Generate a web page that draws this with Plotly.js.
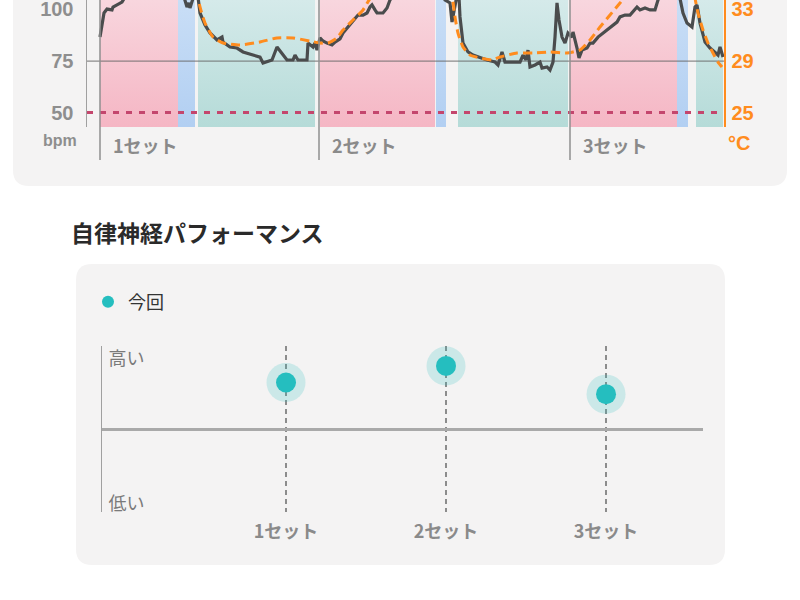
<!DOCTYPE html>
<html>
<head>
<meta charset="utf-8">
<script src="https://cdn.plot.ly/plotly-3.0.1.min.js"></script>
<style>html,body{margin:0;padding:0;background:#fff;}#chart{width:800px;height:600px;}</style>
</head>
<body>
<div id="chart"></div>
<script>
// ---------- DATA ----------
// phases of the session (minutes): sauna / water bath / rest
const phaseStart = [0, 7.8, 9.8, 22.0, 33.6, 35.8, 47.0, 57.7, 59.6];
const phaseEnd   = [7.8, 9.5, 21.5, 33.5, 34.6, 46.8, 57.7, 58.8, 62.3];
const phaseKind  = ['sauna','water','rest','sauna','water','rest','sauna','water','rest'];

const setStarts = [0, 21.9, 47.0];
const setLabels = ['1セット', '2セット', '3セット'];

// heart rate (bpm)
const hrTime = [0.0,0.4,0.7,1.2,1.3,1.8,2.2,2.5,3.5,4.5,5.5,6.5,7.5,8.0,8.4,8.7,8.9,9.0,9.2,9.4,9.6,9.8,
  10.0,10.5,11.0,11.7,12.2,12.3,13.0,13.7,14.3,15.3,16.0,16.3,16.7,17.2,17.7,18.2,18.7,19.3,19.5,19.8,
  20.7,20.8,21.0,21.3,21.5,21.7,22.0,22.3,22.7,23.2,23.5,24.0,24.3,24.8,25.3,25.8,26.3,26.7,27.0,27.2,
  27.5,27.7,28.3,28.7,29.0,29.5,30.5,31.5,32.5,33.5,34.2,34.5,35.0,35.2,35.4,35.7,35.9,36.0,36.3,36.8,
  37.3,38.0,38.7,39.5,39.8,40.2,40.5,41.0,42.0,42.3,42.6,42.8,43.0,43.5,44.0,44.2,44.7,45.0,45.3,45.5,
  45.7,45.9,46.2,46.5,46.8,47.2,47.3,47.7,47.9,48.2,48.7,49.0,49.3,49.8,50.3,51.0,51.7,52.0,52.5,53.0,
  53.3,53.7,54.0,54.5,55.0,55.5,55.8,56.2,56.8,57.3,57.8,58.0,58.3,58.7,59.2,59.5,59.7,60.0,60.5,61.0,
  61.5,61.8,62.0,62.3];
const hrValue = [86.6,98.3,100.2,99.8,101.2,102.7,103.6,106,110,114,117,120,122,116,106,101.2,103.2,100.7,103.6,108,110,106,
  98.3,92.5,88.6,85.2,86.6,84.2,81.8,81.3,79.4,77.9,76.9,74.0,74.5,75.5,81.8,78.9,75.5,75.5,77.9,75.5,
  75.5,83.7,82.8,81.8,83.7,80.3,86.2,84.7,83.7,82.8,84.2,85.7,88.6,91.5,94.9,97.3,97.3,98.3,101.2,102.2,
  99.8,98.3,98.3,100.7,104.6,108,112,116,119,121,112,104.6,103.2,93.9,99.8,107,106,96.4,83.7,79.4,
  77.9,76.5,75.5,74.5,73.1,79.4,74.5,74.5,74.5,77.9,75.5,80.3,72.1,73.1,74.5,71.6,72.1,70.6,74.5,86.6,
  103.2,94.9,86.6,83.7,88.6,86.6,89.1,81.3,76.5,80.3,81.3,83.7,83.7,86.6,88.6,91.5,93.9,96.4,97.3,97.3,
  98.8,101.2,99.8,100.7,99.8,99.8,104.6,108,115,117,110,104.6,98.3,93.4,91.5,101.2,102.2,93.4,84.2,81.3,
  79.4,77.9,81.8,76.9];

// temperature (°C)
const tempTime  = [0,3,6,8,9.3,9.6,10.0,10.5,11.3,12.3,14.0,16.0,17.7,19.3,21.0,22.0,22.8,23.7,24.3,25.3,26.3,26.8,27.3,
  29,31,33,34.5,35.0,35.5,35.8,36.3,37.0,38.0,39.2,40.0,41.7,43.3,45.0,46.7,47.3,48.0,49.0,50.0,51.0,52.0,52.5,
  54,56,58,59.2,59.5,59.8,60.3,60.8,61.3,61.8,62.2];
const tempValue = [35.5,38.5,40.5,41,38,35.0,33.2,31.95,30.86,30.40,30.24,30.48,30.79,30.79,30.55,30.40,30.40,30.79,31.40,32.18,32.96,33.6,34.2,
  36.5,39,40,38.5,35.5,32.42,31.17,30.09,29.47,29.23,29.08,29.31,29.62,29.62,29.70,29.62,29.70,29.85,30.63,31.64,32.57,33.50,34.0,
  36.5,39,39.5,36.5,33.9,32.73,31.41,30.40,29.62,28.92,28.53];

const hrTicks = [50, 75, 100];
const tempTicks = [25, 29, 33];
const hrRefLine = 75;
const hrThreshold = 50;

// autonomic nerve performance
const perfSets = ['1セット', '2セット', '3セット'];
const perfValue = [0.56, 0.76, 0.42];
const perfTickVals = [0.843, -0.904];
const perfTickText = ['高い', '低い'];

// ---------- STYLE ----------
const W = 800, H = 600;
const px = x => x / W, py = y => 1 - y / H;
const JP = '"Noto Sans CJK JP", "Noto Sans", sans-serif';
const NUM = '"Liberation Sans", Arial, sans-serif';
const hrRange = [43.0, 104.6];
const toTemp = b => 25 + (b - 50) * 0.16;
const tempRange = [toTemp(hrRange[0]), toTemp(hrRange[1])];
const xRange = [-1.3, 62.4];

const bandColors = {
  sauna: ['#f5b6c4', '#f8d6de'],
  water: ['#b2cff2', '#c9def6'],
  rest:  ['#b5dbd8', '#d5eaea']
};

function roundRect(x0, y0, x1, y1, r, openTop) {
  const rx = r / W, ry = r / H;
  const X0 = px(x0), X1 = px(x1), Yt = py(y0), Yb = py(y1);
  if (openTop) {
    return `M${X0},${Yt} L${X0},${Yb+ry} Q${X0},${Yb} ${X0+rx},${Yb} L${X1-rx},${Yb} Q${X1},${Yb} ${X1},${Yb+ry} L${X1},${Yt} Z`;
  }
  return `M${X0+rx},${Yt} L${X1-rx},${Yt} Q${X1},${Yt} ${X1},${Yt-ry} L${X1},${Yb+ry} Q${X1},${Yb} ${X1-rx},${Yb} L${X0+rx},${Yb} Q${X0},${Yb} ${X0},${Yb+ry} L${X0},${Yt-ry} Q${X0},${Yt} ${X0+rx},${Yt} Z`;
}

const traces = [];
phaseStart.forEach((s, i) => {
  const e = phaseEnd[i];
  const c = bandColors[phaseKind[i]];
  traces.push({
    type: 'scatter', mode: 'lines', xaxis: 'x', yaxis: 'y',
    x: [s, e, e, s, s], y: [hrRange[0], hrRange[0], hrRange[1], hrRange[1], hrRange[0]],
    fill: 'toself', fillcolor: c[1],
    fillgradient: {type: 'vertical', colorscale: [[0, c[0]], [1, c[1]]]},
    line: {width: 0}, showlegend: false, hoverinfo: 'skip'
  });
});
traces.push({
  type: 'scatter', mode: 'lines', xaxis: 'x', yaxis: 'y',
  x: xRange, y: [hrRefLine, hrRefLine],
  line: {color: 'rgba(105,105,105,0.75)', width: 1.2}, showlegend: false, hoverinfo: 'skip'
});
traces.push({
  type: 'scatter', mode: 'lines', xaxis: 'x', yaxis: 'y',
  x: [xRange[0], hrTime[hrTime.length - 1] - 0.3], y: [hrThreshold, hrThreshold],
  line: {color: '#c4466d', width: 3, dash: '6px,7px'}, showlegend: false, hoverinfo: 'skip'
});
traces.push({
  type: 'scatter', mode: 'lines', xaxis: 'x', yaxis: 'y',
  x: hrTime, y: hrValue,
  line: {color: '#4a4c4d', width: 3.2}, showlegend: false
});
traces.push({
  type: 'scatter', mode: 'lines', xaxis: 'x', yaxis: 'y2',
  x: tempTime, y: tempValue, line: {color: '#ff8c1e', width: 3, dash: '9px,5px', shape: 'spline', smoothing: 0.5},
  showlegend: false
});
// performance
traces.push({
  type: 'scatter', mode: 'markers', xaxis: 'x2', yaxis: 'y3',
  x: perfSets, y: perfValue,
  marker: {size: 39, color: 'rgba(40,190,190,0.2)'}, showlegend: false, hoverinfo: 'skip'
});
traces.push({
  type: 'scatter', mode: 'markers', xaxis: 'x2', yaxis: 'y3', name: '今回',
  x: perfSets, y: perfValue,
  marker: {size: 20, color: '#25bebf'}, showlegend: true
});

const shapes = [
  {type: 'path', xref: 'paper', yref: 'paper', layer: 'below', path: roundRect(13, -40, 787, 186, 16, true),
   fillcolor: '#f4f3f3', line: {width: 0}},
  {type: 'path', xref: 'paper', yref: 'paper', layer: 'below', path: roundRect(76, 264, 725, 565, 16, false),
   fillcolor: '#f4f3f3', line: {width: 0}}
];
setStarts.forEach(s => shapes.push({
  type: 'line', xref: 'x', yref: 'paper', x0: s, x1: s, y0: py(160), y1: 1, layer: 'above',
  line: {color: '#8f8f8f', width: 1.5}
}));

const annotations = [
  {text: '自律神経パフォーマンス', xref: 'paper', yref: 'paper', x: px(69), y: py(232), xanchor: 'left', yanchor: 'middle',
   showarrow: false, font: {family: JP, size: 23, color: '#2a2a2a', weight: 'bold'}},
  {text: 'bpm', xref: 'paper', yref: 'paper', x: px(79), y: py(140), xanchor: 'right', yanchor: 'middle',
   showarrow: false, font: {family: NUM, size: 16, color: '#8e8e8e', weight: 'bold'}},
  {text: '°C', xref: 'paper', yref: 'paper', x: px(726), y: py(143), xanchor: 'left', yanchor: 'middle',
   showarrow: false, font: {family: NUM, size: 20, color: '#ff8c1e', weight: 'bold'}},
  {text: '1セット目', xref: 'paper', yref: 'paper', x: px(62), y: py(592), xanchor: 'left', yanchor: 'top',
   showarrow: false, font: {family: JP, size: 23, color: '#222', weight: 'bold'}}
];
setStarts.forEach((s, i) => annotations.push({
  text: setLabels[i], xref: 'x', yref: 'paper', x: s, xshift: 11, y: py(145), xanchor: 'left', yanchor: 'middle',
  showarrow: false, font: {family: JP, size: 18, color: '#8a8a8a', weight: 'bold'}
}));

const layout = {
  width: W, height: H, margin: {l: 0, r: 0, t: 0, b: 0},
  paper_bgcolor: '#ffffff', plot_bgcolor: 'rgba(0,0,0,0)',
  showlegend: true,
  legend: {x: px(88), y: py(302), xanchor: 'left', yanchor: 'middle', bgcolor: 'rgba(0,0,0,0)',
    itemsizing: 'constant', font: {family: JP, size: 18, color: '#333'}},
  xaxis: {domain: [px(87), px(724)], range: xRange, anchor: 'y', showgrid: false, zeroline: false,
    showticklabels: false, ticks: '', fixedrange: true},
  yaxis: {domain: [py(127), 1], range: hrRange, anchor: 'x', tickvals: hrTicks, showgrid: false, zeroline: false,
    showline: true, linecolor: '#a0a0a0', linewidth: 1.5, ticks: '', ticklabelstandoff: 8, ticklabeloverflow: 'allow',
    tickfont: {family: NUM, size: 20, color: '#8e8e8e', weight: 'bold'}},
  yaxis2: {overlaying: 'y', side: 'right', anchor: 'x', range: tempRange, tickvals: tempTicks, showgrid: false,
    zeroline: false, showline: true, linecolor: '#ff8c1e', linewidth: 1.5, ticks: '', ticklabelstandoff: 2,
    ticklabeloverflow: 'allow',
    tickfont: {family: NUM, size: 20, color: '#ff8c1e', weight: 'bold'}},
  xaxis2: {domain: [px(102), px(703)], anchor: 'y3', type: 'category', categoryarray: perfSets,
    range: [-1.15, 2.606], showgrid: true, gridcolor: '#8c8c8c', griddash: '5px,4px', gridwidth: 1.3,
    showline: false, zeroline: false, ticks: 'outside', ticklen: 3, tickcolor: 'rgba(0,0,0,0)',
    tickfont: {family: JP, size: 18, color: '#8a8a8a', weight: 'bold'}},
  yaxis3: {domain: [py(512), py(346)], anchor: 'x2', range: [-1, 1], showgrid: false,
    zeroline: true, zerolinecolor: '#a9a9a9', zerolinewidth: 3,
    showline: true, linecolor: '#a0a0a0', linewidth: 1.5,
    tickvals: perfTickVals, ticktext: perfTickText, ticks: '', ticklabelposition: 'inside', ticklabelstandoff: 7,
    ticklabeloverflow: 'allow',
    tickfont: {family: JP, size: 18, color: '#7a7a7a'}},
  shapes: shapes,
  annotations: annotations
};

Plotly.newPlot('chart', traces, layout, {displayModeBar: false, staticPlot: true});
</script>
</body>
</html>
